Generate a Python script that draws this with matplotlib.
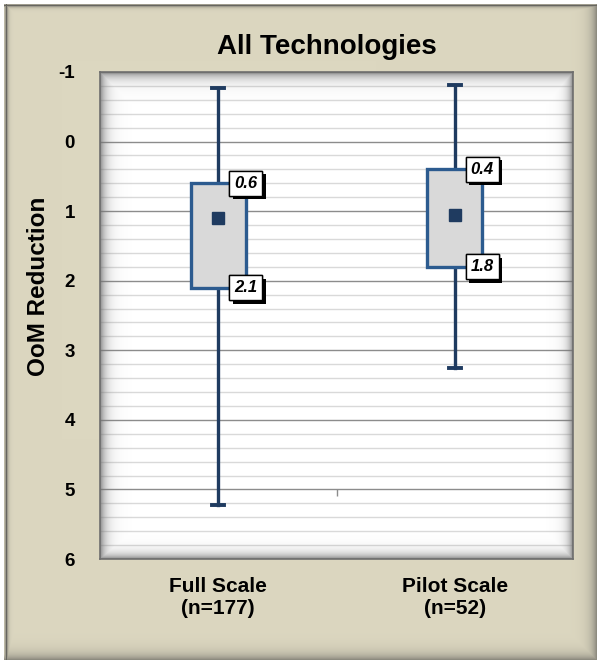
import matplotlib.pyplot as plt
import matplotlib.patheffects as pe
import numpy as np

plt.rcParams['font.family'] = ['Liberation Sans', 'DejaVu Sans']

categories = ['Full Scale\n(n=177)', 'Pilot Scale\n(n=52)']
whisker_top = [-0.77, -0.81]
q_top = [0.6, 0.4]
q_bottom = [2.1, 1.8]
whisker_bottom = [5.23, 3.26]
means = [1.10, 1.06]

bg_color = '#dcd7c0'
box_edge = '#2c5b8f'
whisker_color = '#1f3b60'

fig = plt.figure(figsize=(5.97, 6.6), dpi=100)

# background panel with darker frame / shadow on the edges
bg = fig.add_axes([0, 0, 1, 1], zorder=-5)
H, W = 660, 597
yy, xx = np.mgrid[0:H, 0:W]
base = np.array([0xdc, 0xd7, 0xc0]) / 255.0
shade = np.zeros((H, W))
shade = np.maximum(shade, np.exp(-(W - 1 - xx) / 6.0) * 0.5)
shade = np.maximum(shade, np.exp(-(H - 1 - yy) / 6.0) * 0.5)
shade = np.maximum(shade, np.exp(-np.abs(xx - 6) / 1.5) * 0.75 * (xx > 3))
shade = np.maximum(shade, np.exp(-np.abs(yy - 5) / 1.5) * 0.75 * (yy > 3))
img = base[None, None, :] * (1 - shade[..., None]) + 0.25 * shade[..., None]
img[:4, :, :] = 1.0
img[:, :4, :] = 1.0
bg.imshow(img, extent=(0, 1, 0, 1), aspect='auto', interpolation='bilinear')
bg.axis('off')

ax = fig.add_axes([100 / 597, 1 - 559 / 660, 473 / 597, 487 / 660])
ax.set_facecolor('white')

pos = np.arange(len(categories))
stats = []
for i in range(len(categories)):
    stats.append({'whislo': whisker_bottom[i], 'q1': q_bottom[i], 'med': means[i],
                  'q3': q_top[i], 'whishi': whisker_top[i], 'mean': means[i],
                  'fliers': []})

ax.bxp(stats, positions=pos, widths=0.233, capwidths=0.05, showmeans=True,
       patch_artist=True, manage_ticks=False,
       boxprops=dict(facecolor='#d9d9d9', edgecolor=box_edge, linewidth=2.4, zorder=4),
       whiskerprops=dict(color=whisker_color, linewidth=2.4, zorder=3),
       capprops=dict(color=whisker_color, linewidth=2.8, zorder=3),
       medianprops=dict(linewidth=0),
       meanprops=dict(marker='s', markerfacecolor=whisker_color,
                      markeredgecolor=whisker_color, markersize=8.5, zorder=5))

# value labels on the box edges, white boxes with a drop shadow
for i in range(len(categories)):
    for v in (q_top[i], q_bottom[i]):
        t = ax.annotate(f'{v:.1f}', xy=(pos[i] + 0.1165, v),
                        ha='center', va='center',
                        fontsize=12, fontweight='bold', fontstyle='italic',
                        bbox=dict(boxstyle='square,pad=0.3', facecolor='white',
                                  edgecolor='black', linewidth=1.0),
                        zorder=7)
        t.get_bbox_patch().set_path_effects([
            pe.withSimplePatchShadow(offset=(2.5, -2.5), shadow_rgbFace='black', alpha=1.0),
            pe.Normal()])

ax.set_xlim(-0.5, 1.5)
ax.set_ylim(6, -1)
ax.set_yticks(np.arange(-1, 7))
ax.set_yticks(np.arange(-1, 6.01, 0.2), minor=True)
ax.set_yticklabels([str(t) for t in range(-1, 7)], fontsize=13.5, fontweight='bold')
ax.set_xticks(pos)
ax.set_xticklabels(categories, fontsize=15, fontweight='bold')
ax.tick_params(axis='y', which='both', length=0, pad=18)
ax.tick_params(axis='x', length=0, pad=13)
ax.grid(axis='y', which='major', color='#8c8c8c', linewidth=1.0, zorder=0)
ax.grid(axis='y', which='minor', color='#d9d9d9', linewidth=1.0, zorder=0)
ax.set_axisbelow(True)
# category separator tick on the horizontal axis
ax.vlines(0.5, 5, 5.1, color='#8c8c8c', linewidth=1.0, zorder=1)

# inner shadow of the plot area
h, w = 487, 473
py, px = np.mgrid[0:h, 0:w]
a = np.zeros((h, w))
a = np.maximum(a, np.exp(-px / 6.0))
a = np.maximum(a, np.exp(-py / 6.0))
a = np.maximum(a, np.exp(-(w - 1 - px) / 5.0))
a = np.maximum(a, np.exp(-(h - 1 - py) / 5.0))
ov = np.zeros((h, w, 4))
ov[..., :3] = 0.45
ov[..., 3] = a * 0.8
ax.imshow(ov, extent=(0, 1, 0, 1), transform=ax.transAxes, aspect='auto',
          interpolation='bilinear', zorder=1)
ax.set_xlim(-0.5, 1.5)
ax.set_ylim(6, -1)
for s in ax.spines.values():
    s.set_color('#6e6e6e')
    s.set_linewidth(1.2)

fig.text(327 / 597, 1 - 54 / 660, 'All Technologies', ha='center', va='baseline',
         fontsize=20, fontweight='bold')
fig.text(39 / 597, 1 - 286 / 660, 'OoM Reduction', ha='center', va='center',
         rotation=90, fontsize=17.5, fontweight='bold')

fig.savefig('out.png', dpi=100)
